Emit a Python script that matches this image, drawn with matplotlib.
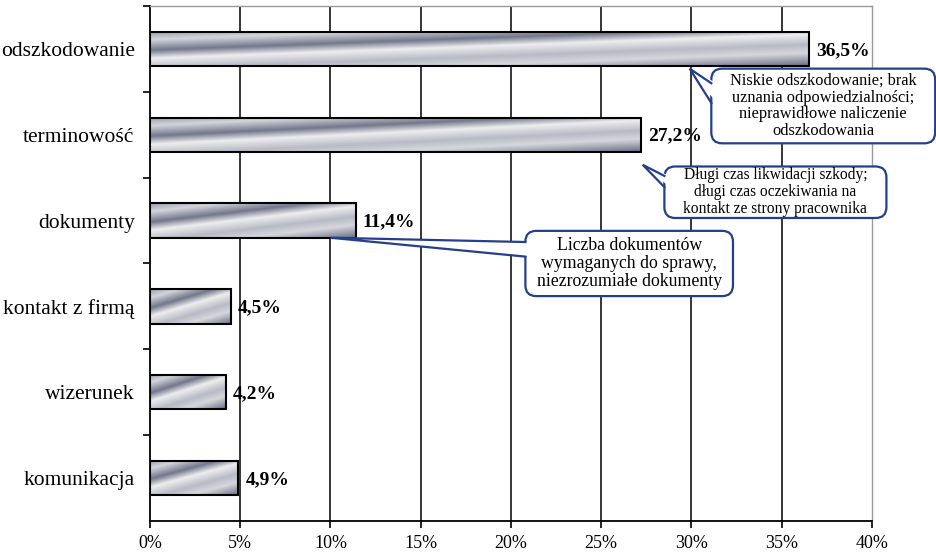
import matplotlib
matplotlib.use('Agg')
import numpy as np
import matplotlib.pyplot as plt
from matplotlib.colors import LinearSegmentedColormap
from matplotlib.patches import FancyBboxPatch, Polygon
from matplotlib.ticker import FixedLocator, FuncFormatter

plt.rcParams['font.family'] = ['Liberation Serif', 'DejaVu Serif']

# data
categories = ['odszkodowanie', 'terminowość', 'dokumenty',
              'kontakt z firmą', 'wizerunek', 'komunikacja']
values = [36.5, 27.2, 11.4, 4.5, 4.2, 4.9]
x_ticks = [0, 5, 10, 15, 20, 25, 30, 35, 40]

notes = [
    'Niskie odszkodowanie; brak\nuznania odpowiedzialności;\nnieprawidłowe naliczenie\nodszkodowania',
    'Długi czas likwidacji szkody;\ndługi czas oczekiwania na\nkontakt ze strony pracownika',
    'Liczba dokumentów\nwymaganych do sprawy,\nniezrozumiałe dokumenty',
]

# metallic fill for the bars
metal = LinearSegmentedColormap.from_list('metal', [
    (0.00, '#9a9dac'), (0.14, '#d4d5db'), (0.32, '#72778b'),
    (0.46, '#eeeeef'), (0.64, '#b8bac5'), (0.78, '#d6d7dd'),
    (1.00, '#6a6e83')])

fig = plt.figure(figsize=(9.37, 5.54), dpi=100)
ax = fig.add_axes([0.160, 0.0596, 0.7706, 0.9296])

ypos = np.arange(len(categories))[::-1]
bars = ax.barh(ypos, values, height=0.4, facecolor='none',
               edgecolor='black', linewidth=1.5, zorder=3)

uu, vv = np.meshgrid(np.linspace(0, 1, 300), np.linspace(0, 1, 60))
grad = (vv + 0.7 * uu) / 1.7
for b in bars:
    x0, y0 = b.get_x(), b.get_y()
    im = ax.imshow(grad, cmap=metal, aspect='auto', interpolation='bilinear',
                   extent=(x0, x0 + b.get_width(), y0, y0 + b.get_height()),
                   origin='upper', zorder=2)
    im.set_clip_path(b)

for y, v in zip(ypos, values):
    ax.annotate(f'{v:.1f}%'.replace('.', ','), xy=(v, y), xytext=(5, -1),
                textcoords='offset points', va='center', ha='left',
                fontsize=14, fontweight='bold')

ax.set_xlim(0, 40)
ax.set_ylim(-0.5, 5.5)
ax.xaxis.set_major_locator(FixedLocator(x_ticks))
ax.xaxis.set_major_formatter(FuncFormatter(lambda x, p: f'{x:.0f}%'))
ax.set_yticks(ypos)
ax.set_yticklabels(categories, fontsize=15.5)
ax.set_yticks(np.arange(0.5, 6, 1), minor=True)
ax.tick_params(axis='y', which='major', length=0, pad=11)
ax.tick_params(axis='y', which='minor', length=5, width=1.2, direction='out')
ax.tick_params(axis='x', length=5, width=1.2, direction='out', pad=5,
               labelsize=13)

for g in x_ticks[1:-1]:
    ax.axvline(g, color='black', linewidth=1.1, zorder=1)
for s in ['left', 'bottom']:
    ax.spines[s].set_linewidth(1.3)
for s in ['top', 'right']:
    ax.spines[s].set_color('#9a9a9a')
    ax.spines[s].set_linewidth(1.0)

# callout boxes: (box x0, x1, y0, y1), pointer tip, pointer base on box side
callouts = [
    ((31.1, 43.5, 3.90, 4.77), (29.9, 4.77), (4.60, 4.37), 11.8, 1.05),
    ((28.5, 40.8, 3.03, 3.63), (27.3, 3.65), (3.52, 3.39), 11.2, 1.1),
    ((20.8, 32.3, 2.12, 2.88), (10.0, 2.80), (2.75, 2.58), 12.8, 1.05),
]
blue = '#243f8c'
for note, ((bx0, bx1, by0, by1), (tx, ty), (b1, b2), fs, ls) in zip(notes, callouts):
    box = FancyBboxPatch((bx0, by0), bx1 - bx0, by1 - by0,
                         boxstyle='round,pad=0,rounding_size=0.6',
                         mutation_aspect=0.21,
                         facecolor='white', edgecolor=blue, linewidth=1.6,
                         zorder=5, clip_on=False)
    ax.add_patch(box)
    tri = Polygon([(tx, ty), (bx0 + 0.3, b1), (bx0 + 0.3, b2)], closed=True,
                  facecolor='white', edgecolor='none', zorder=6, clip_on=False)
    ax.add_patch(tri)
    ax.plot([bx0, tx, bx0], [b1, ty, b2], color=blue, linewidth=1.6,
            zorder=7, clip_on=False, solid_joinstyle='miter')
    ax.text((bx0 + bx1) / 2, (by0 + by1) / 2, note, ha='center', va='center',
            fontsize=fs, linespacing=ls, zorder=8)

fig.savefig('out.png', dpi=100)
